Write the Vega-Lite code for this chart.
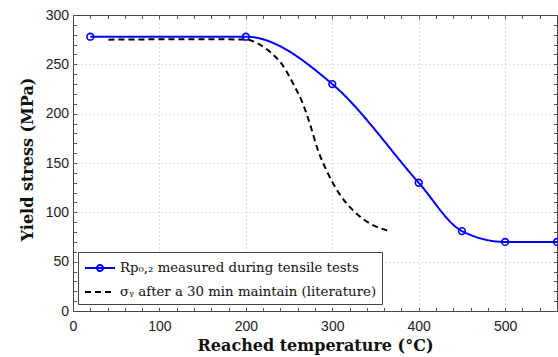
{
  "$schema": "https://vega.github.io/schema/vega-lite/v6.json",
  "width": 484,
  "height": 296,
  "autosize": {"type": "none"},
  "padding": {"left": 73, "top": 15, "right": 1, "bottom": 46},
  "background": "white",
  "config": {
    "view": {"stroke": "#444", "strokeWidth": 1},
    "axis": {
      "labelFont": "Liberation Sans",
      "labelFontSize": 14,
      "labelColor": "#222",
      "titleFont": "DejaVu Serif",
      "titleFontSize": 16,
      "titleFontWeight": "bold",
      "titleColor": "#111",
      "domain": false,
      "tickColor": "#555",
      "tickSize": -3.5,
      "tickWidth": 1,
      "labelOverlap": false,
      "labelFlush": false,
      "gridColor": "#bbb",
      "gridDash": [1, 3],
      "gridWidth": 1
    },
    "legend": {
      "orient": "none", "legendX": 5, "legendY": 237, "title": null,
      "direction": "vertical",
      "fillColor": "white", "strokeColor": "#444", "padding": 5, "rowPadding": 6,
      "symbolSize": 400, "symbolStrokeWidth": 2, "symbolOffset": 6, "symbolOpacity": 1,
      "symbolFillColor": "transparent",
      "labelFont": "DejaVu Serif", "labelFontSize": 13.3, "labelColor": "#111",
      "labelOffset": 9, "labelLimit": 400
    }
  },
  "datasets": {
    "curves": [
      {"T": 20, "S": 278, "series": "Rp"},
      {"T": 200, "S": 278, "series": "Rp"},
      {"T": 300, "S": 230, "series": "Rp"},
      {"T": 400, "S": 130, "series": "Rp"},
      {"T": 450, "S": 81, "series": "Rp"},
      {"T": 500, "S": 70, "series": "Rp"},
      {"T": 560, "S": 70, "series": "Rp"},
      {"T": 41, "S": 275, "series": "sigma"},
      {"T": 150, "S": 275.5, "series": "sigma"},
      {"T": 201, "S": 275, "series": "sigma"},
      {"T": 214, "S": 271, "series": "sigma"},
      {"T": 230, "S": 261, "series": "sigma"},
      {"T": 241, "S": 251, "series": "sigma"},
      {"T": 255, "S": 230, "series": "sigma"},
      {"T": 266, "S": 210, "series": "sigma"},
      {"T": 274, "S": 190, "series": "sigma"},
      {"T": 283, "S": 164, "series": "sigma"},
      {"T": 293, "S": 143, "series": "sigma"},
      {"T": 308, "S": 119, "series": "sigma"},
      {"T": 324, "S": 102, "series": "sigma"},
      {"T": 343, "S": 89, "series": "sigma"},
      {"T": 366, "S": 81, "series": "sigma"}
    ]
  },
  "resolve": {"axis": {"x": "independent", "y": "independent"}},
  "layer": [
    {
      "data": {"name": "curves"},
      "mark": {"type": "line", "interpolate": "monotone", "strokeWidth": 2},
      "encoding": {
        "x": {
          "field": "T", "type": "quantitative",
          "scale": {"domain": [0, 560], "nice": false, "zero": false},
          "axis": {
            "orient": "bottom",
            "title": "Reached temperature (°C)",
            "values": [0,20,40,60,80,100,120,140,160,180,200,220,240,260,280,300,320,340,360,380,400,420,440,460,480,500,520,540,560],
            "labelExpr": "datum.value % 100 === 0 ? datum.label : ''",
            "grid": true,
            "gridOpacity": {"condition": {"test": "datum.value % 100 === 0 && datum.value > 0", "value": 1}, "value": 0},
            "labelPadding": 12,
            "titlePadding": 4
          }
        },
        "y": {
          "field": "S", "type": "quantitative",
          "scale": {"domain": [0, 300], "nice": false},
          "axis": {
            "orient": "left",
            "title": "Yield stress (MPa)",
            "titleY": 144,
            "values": [0,10,20,30,40,50,60,70,80,90,100,110,120,130,140,150,160,170,180,190,200,210,220,230,240,250,260,270,280,290,300],
            "labelExpr": "datum.value % 50 === 0 ? datum.label : ''",
            "grid": true,
            "gridOpacity": {"condition": {"test": "datum.value % 50 === 0 && datum.value > 0 && datum.value < 300", "value": 1}, "value": 0},
            "labelPadding": 8,
            "titlePadding": 10
          }
        },
        "color": {
          "field": "series", "type": "nominal",
          "scale": {"domain": ["Rp", "sigma"], "range": ["#0000ff", "#000000"]},
          "legend": {
            "labelExpr": "datum.value === 'Rp' ? 'Rp₀,₂ measured during tensile tests' : 'σᵧ after a 30 min maintain (literature)  '"
          }
        },
        "strokeDash": {
          "field": "series", "type": "nominal",
          "scale": {"domain": ["Rp", "sigma"], "range": [[1, 0], [6, 4]]},
          "legend": null
        }
      }
    },
    {
      "data": {"name": "curves"},
      "transform": [{"filter": "datum.series === 'Rp'"}],
      "mark": {"type": "point", "shape": "circle", "filled": false, "size": 45, "strokeWidth": 1.6, "color": "#0000ff", "opacity": 1},
      "encoding": {
        "x": {
          "field": "T", "type": "quantitative",
          "axis": {
            "orient": "top", "title": null, "labels": false, "grid": false,
            "values": [0,20,40,60,80,100,120,140,160,180,200,220,240,260,280,300,320,340,360,380,400,420,440,460,480,500,520,540,560]
          }
        },
        "y": {
          "field": "S", "type": "quantitative",
          "axis": {
            "orient": "right", "title": null, "labels": false, "grid": false,
            "values": [0,10,20,30,40,50,60,70,80,90,100,110,120,130,140,150,160,170,180,190,200,210,220,230,240,250,260,270,280,290,300]
          }
        }
      }
    },
    {
      "data": {"name": "curves"},
      "mark": {"type": "point", "filled": false, "strokeWidth": 2, "size": 400, "opacity": 0},
      "encoding": {
        "x": {"field": "T", "type": "quantitative", "axis": null},
        "y": {"field": "S", "type": "quantitative", "axis": null},
        "color": {
          "field": "series", "type": "nominal",
          "scale": {"domain": ["Rp", "sigma"], "range": ["#0000ff", "#000000"]},
          "legend": {
            "labelExpr": "datum.value === 'Rp' ? 'Rp₀,₂ measured during tensile tests' : 'σᵧ after a 30 min maintain (literature)  '"
          }
        },
        "shape": {
          "field": "series", "type": "nominal",
          "scale": {"domain": ["Rp", "sigma"], "range": ["M-1.5,0H1.5M-0.3,0A0.3,0.3,0,1,1,0.3,0A0.3,0.3,0,1,1,-0.3,0Z", "M-1.5,0H-0.9M-0.5,0H0.1M0.5,0H1.1"]},
          "legend": {
            "labelExpr": "datum.value === 'Rp' ? 'Rp₀,₂ measured during tensile tests' : 'σᵧ after a 30 min maintain (literature)  '"
          }
        }
      }
    }
  ]
}
